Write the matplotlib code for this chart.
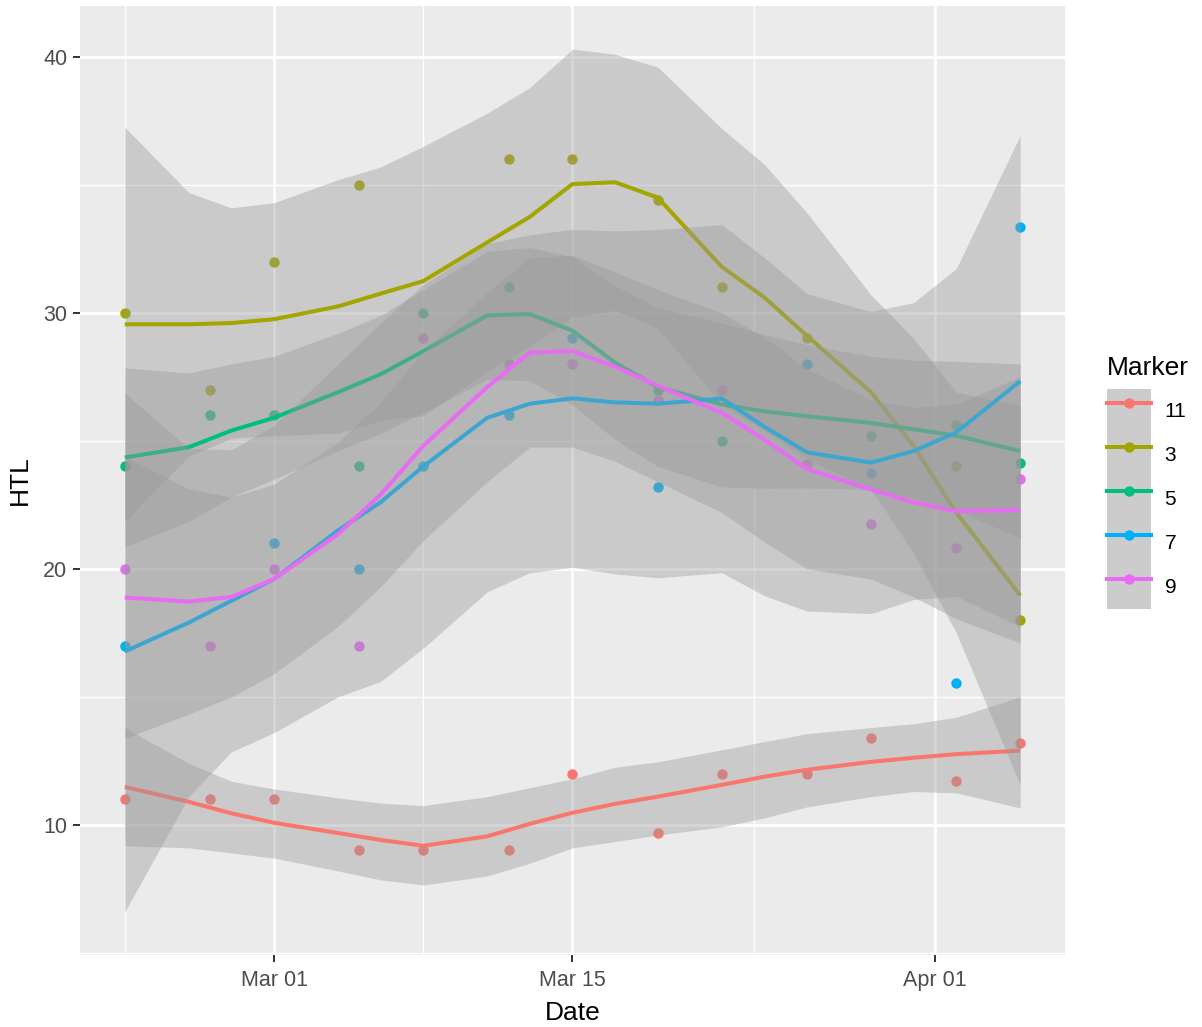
"""
HTL by date for each marker: points plus loess-style smooth with confidence band
"""

import matplotlib
matplotlib.use('Agg')
import matplotlib.pyplot as plt
import matplotlib.dates as mdates
from matplotlib.patches import Patch
from matplotlib.lines import Line2D
from matplotlib.legend_handler import HandlerTuple
import numpy as np
import pandas as pd

plt.rcParams['font.family'] = ['Liberation Sans', 'DejaVu Sans']

nan = np.nan

# Observed points
point_dates = pd.to_datetime(['2021-02-22', '2021-02-26', '2021-03-01', '2021-03-05',
                              '2021-03-08', '2021-03-12', '2021-03-15', '2021-03-19',
                              '2021-03-22', '2021-03-26', '2021-03-29', '2021-04-02',
                              '2021-04-05'])
htl_11 = [11, 11, 11, 9, 9, 9, 12, 9.7, 12, 12, 13.4, 11.7, 13.2]
htl_3 = [30, 27, 32, 35, nan, 36, 36, 34.4, 31, 29, nan, 24, 18]
htl_5 = [24, 26, 26, 24, 30, 31, nan, 27, 25, nan, 25.2, 25.6, 24.15]
htl_7 = [17, nan, 21, 20, 24, 26, 29, 23.2, nan, 28, 23.75, 15.55, 33.35]
htl_9 = [20, 17, 20, 17, 29, 28, 28, 26.6, 27, 24.1, 21.75, 20.8, 23.5]

# Smooth curves (fit, lower and upper band)
fit_dates = pd.to_datetime(['2021-02-22', '2021-02-25', '2021-02-27', '2021-03-01',
                            '2021-03-04', '2021-03-06', '2021-03-08', '2021-03-11',
                            '2021-03-13', '2021-03-15', '2021-03-17', '2021-03-19',
                            '2021-03-22', '2021-03-24', '2021-03-26', '2021-03-29',
                            '2021-03-31', '2021-04-02', '2021-04-05'])

fit_11 = [11.48, 10.9, 10.45, 10.08, 9.68, 9.41, 9.18, 9.55, 10.04, 10.47, 10.82,
          11.1, 11.56, 11.88, 12.15, 12.46, 12.62, 12.76, 12.9]
lo_11 = [9.18, 9.1, 8.9, 8.7, 8.2, 7.85, 7.65, 8.0, 8.5, 9.1, 9.35, 9.6, 9.92,
         10.27, 10.7, 11.1, 11.3, 11.25, 10.66]
hi_11 = [13.8, 12.4, 11.7, 11.4, 11.05, 10.85, 10.75, 11.1, 11.45, 11.8, 12.25,
         12.46, 12.93, 13.25, 13.56, 13.8, 13.95, 14.2, 15.0]

fit_3 = [29.55, 29.55, 29.6, 29.75, 30.25, 30.75, 31.24, 32.75, 33.75, 35.03, 35.1,
         34.5, 31.8, 30.6, 29.1, 26.9, 24.8, 22.2, 18.96]
lo_3 = [21.85, 24.4, 25.1, 25.2, 25.3, 25.8, 25.98, 27.7, 28.7, 29.83, 30.1, 29.4,
        26.4, 25.4, 24.3, 23.1, 20.6, 17.5, 11.56]
hi_3 = [37.25, 34.7, 34.1, 34.3, 35.2, 35.7, 36.5, 37.8, 38.8, 40.3, 40.1, 39.6,
        37.2, 35.8, 33.9, 30.7, 29.0, 26.9, 26.36]

fit_5 = [24.35, 24.75, 25.4, 25.9, 26.9, 27.6, 28.5, 29.9, 29.95, 29.3, 28.05, 27.1,
         26.42, 26.15, 25.96, 25.7, 25.45, 25.2, 24.6]
lo_5 = [20.85, 21.85, 22.8, 23.5, 24.6, 25.3, 26.1, 27.4, 27.35, 26.4, 25.05, 24.0,
        23.2, 23.15, 23.16, 23.1, 22.75, 22.3, 21.2]
hi_5 = [27.85, 27.65, 28.0, 28.3, 29.2, 29.9, 30.9, 32.4, 32.55, 32.2, 31.05, 30.2,
        29.6, 29.15, 28.76, 28.3, 28.15, 28.1, 28.0]

fit_7 = [16.77, 17.9, 18.75, 19.6, 21.5, 22.6, 24.0, 25.9, 26.45, 26.66, 26.5, 26.45,
         26.65, 25.55, 24.55, 24.15, 24.6, 25.33, 27.33]
lo_7 = [6.6, 11.1, 12.85, 13.6, 15.0, 15.6, 16.9, 19.1, 19.85, 20.06, 19.8, 19.65,
        19.85, 18.95, 18.35, 18.25, 18.8, 18.93, 17.73]
hi_7 = [26.87, 24.7, 24.65, 25.6, 28.0, 29.6, 31.1, 32.7, 33.05, 33.26, 33.2, 33.25,
        33.45, 32.15, 30.75, 30.05, 30.4, 31.73, 36.93]

fit_9 = [18.88, 18.72, 18.9, 19.6, 21.35, 22.9, 24.8, 27.1, 28.45, 28.5, 27.9, 27.15,
         26.1, 25.05, 23.9, 23.1, 22.6, 22.25, 22.3]
lo_9 = [13.38, 14.32, 15.0, 15.9, 17.75, 19.3, 21.1, 23.4, 24.75, 24.75, 24.2, 23.4,
        22.2, 21.05, 20.0, 19.6, 18.9, 18.05, 17.1]
hi_9 = [24.38, 23.12, 22.8, 23.3, 24.95, 26.5, 28.5, 30.8, 32.15, 32.25, 31.6, 30.9,
        30.0, 29.05, 27.8, 26.6, 26.3, 26.45, 27.5]

markers = ['11', '3', '5', '7', '9']
colors = ['#F8766D', '#A3A500', '#00BF7D', '#00B0F6', '#E76BF3']
points = [htl_11, htl_3, htl_5, htl_7, htl_9]
fits = [fit_11, fit_3, fit_5, fit_7, fit_9]
lows = [lo_11, lo_3, lo_5, lo_7, lo_9]
highs = [hi_11, hi_3, hi_5, hi_7, hi_9]

W, H = 1202, 1027
fig = plt.figure(figsize=(W / 100, H / 100), dpi=100)
ax = fig.add_axes([80 / W, 1 - 955 / H, (1065 - 80) / W, (955 - 6) / H])
ax.set_facecolor('#EBEBEB')
for s in ax.spines.values():
    s.set_visible(False)

# points first, then ribbon + line per group (ggplot layer order)
for vals, c in zip(points, colors):
    ax.plot(point_dates, vals, 'o', color=c, ms=7.5, mec='none', zorder=2)

z = 3
for fit, lo, hi, c in zip(fits, lows, highs, colors):
    ax.fill_between(fit_dates, lo, hi, color='#999999', alpha=0.4, lw=0, zorder=z)
    ax.plot(fit_dates, fit, color=c, lw=2.9, zorder=z + 0.5,
            solid_capstyle='butt', solid_joinstyle='round')
    z += 1

# limits with 5% expansion like ggplot
x0, x1 = point_dates.min(), point_dates.max()
xpad = (x1 - x0) * 0.05
ax.set_xlim(x0 - xpad, x1 + xpad)
all_y = np.concatenate([np.ravel(lows), np.ravel(highs),
                        np.ravel(np.array(points, dtype=float))])
ymin, ymax = np.nanmin(all_y), np.nanmax(all_y)
ypad = (ymax - ymin) * 0.05
ax.set_ylim(ymin - ypad, ymax + ypad)

# grid
ax.set_xticks(pd.to_datetime(['2021-03-01', '2021-03-15', '2021-04-01']))
ax.set_xticks(pd.to_datetime(['2021-02-22 00:00', '2021-03-08 00:00', '2021-03-23 12:00']),
              minor=True)
ax.xaxis.set_major_formatter(mdates.DateFormatter('%b %d'))
ax.set_yticks([10, 20, 30, 40])
ax.set_yticks([5, 15, 25, 35], minor=True)
ax.set_axisbelow(True)
ax.grid(which='major', color='white', linewidth=2.0)
ax.grid(which='minor', color='white', linewidth=1.0)
ax.tick_params(which='major', length=5, width=1.4, color='#333333',
               labelsize=15.5, labelcolor='#4D4D4D', pad=4)
ax.tick_params(axis='x', which='major', pad=6)
ax.tick_params(which='minor', length=0)

ax.set_xlabel('Date', fontsize=19, labelpad=7)
ax.set_ylabel('HTL', fontsize=19, labelpad=8)

# legend
handles = [(Patch(facecolor='#CCCCCC', edgecolor='none'),
            Line2D([], [], color=c, lw=2.9, marker='o', ms=7.5, mec='none'))
           for c in colors]
leg = ax.legend(handles, markers, handler_map={tuple: HandlerTuple(ndivide=1, pad=0)},
                title='Marker', title_fontsize=19, fontsize=15, frameon=False,
                loc='upper left', bbox_to_anchor=(1107 / W, 1 - 356 / H),
                bbox_transform=fig.transFigure, handlelength=2.11, handleheight=2.87,
                handletextpad=0.65, labelspacing=0, borderpad=0, borderaxespad=0,
                alignment='left')
leg._legend_box.sep = 6.5

fig.savefig('out.png', dpi=100)
